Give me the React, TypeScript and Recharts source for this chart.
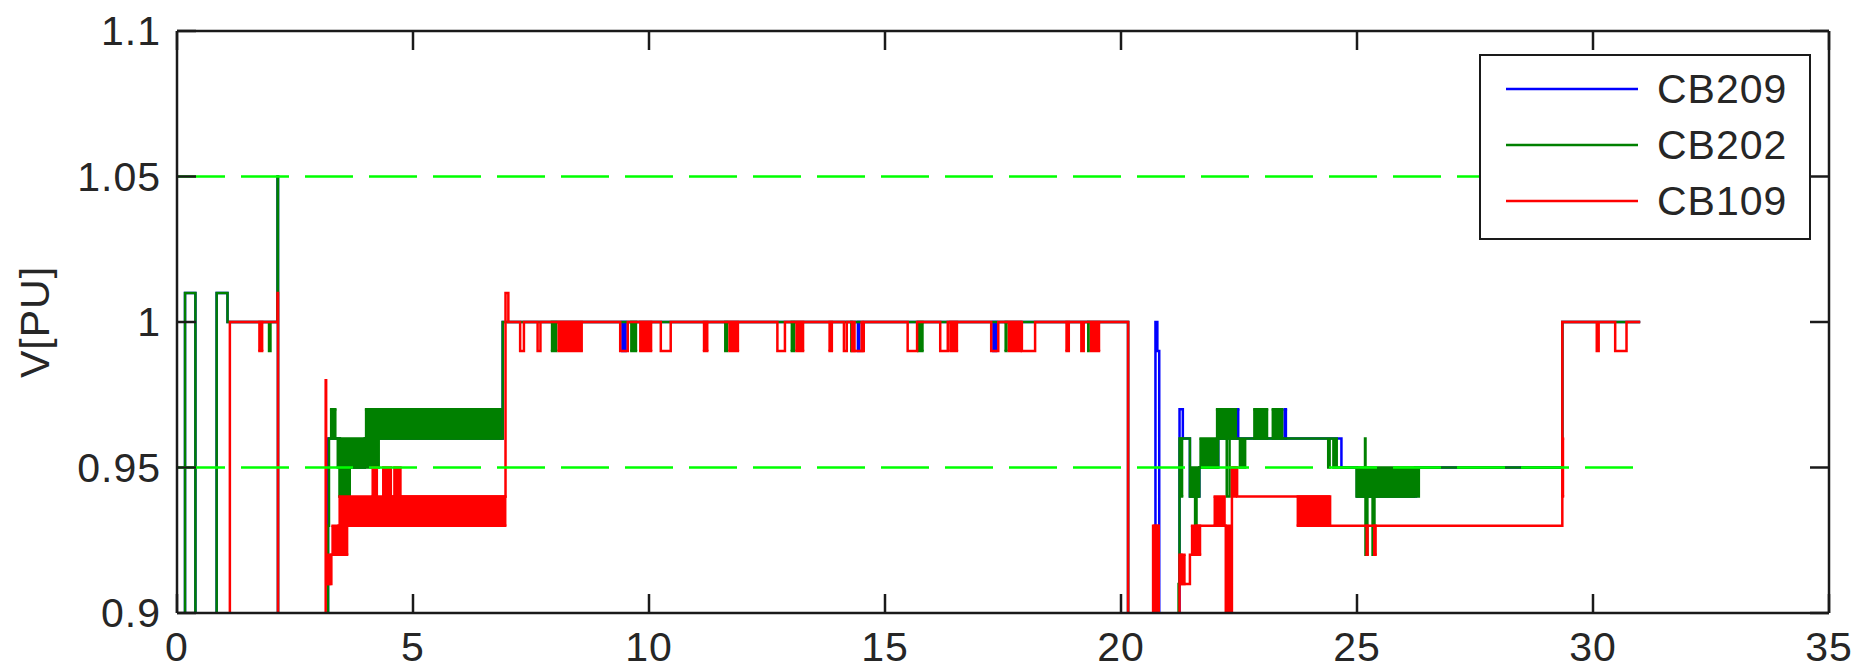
import { ComposedChart, Area, XAxis, YAxis } from "recharts";

const FONT = "'Liberation Sans', Arial, sans-serif";
const INK = "#262626";
const FRAME = "#1a1a1a";
const TICK_LEN = 19;

const X_TICKS = [0, 5, 10, 15, 20, 25, 30, 35];
const Y_TICKS = [0.9, 0.95, 1, 1.05, 1.1];

// step series: [time, voltage]; values below 0.9 fall off the plot
const cb209Line: [number, number][] = [
  [0, 0.85], [0.17, 1.01], [0.39, 0.85], [0.84, 1.01], [1.07, 1.0], [2.13, 1.05], [2.14, 0.85],
  [3.2, 0.96], [3.45, 0.95], [3.98, 0.96], [6.9, 1.0], [20.15, 0.85], [20.73, 1.0], [20.77, 0.99],
  [20.81, 0.85], [21.24, 0.97], [21.31, 0.96], [21.46, 0.94], [21.66, 0.95], [22.06, 0.96],
  [24.67, 0.95], [25.0, 0.94], [26.25, 0.95], [29.35, 1.0], [31.0, 1.0],
];

const cb202Line: [number, number][] = [
  [0, 0.85], [0.17, 1.01], [0.39, 0.85], [0.84, 1.01], [1.07, 1.0], [1.95, 0.99], [1.98, 1.0],
  [2.13, 1.05], [2.14, 0.85], [3.2, 0.93], [3.22, 0.96], [3.45, 0.94], [3.66, 0.95], [3.98, 0.96],
  [6.9, 1.0], [20.15, 0.85], [21.22, 0.91], [21.24, 0.96], [21.46, 0.94], [21.57, 0.93], [21.6, 0.94],
  [21.66, 0.95], [22.06, 0.96], [22.24, 0.94], [22.3, 0.96], [22.52, 0.95], [22.55, 0.96], [22.6, 0.95],
  [22.63, 0.96], [24.39, 0.95], [24.42, 0.96], [24.5, 0.95], [24.53, 0.96], [24.57, 0.95], [24.99, 0.94],
  [25.17, 0.96], [25.18, 0.92], [25.22, 0.94], [25.33, 0.92], [25.37, 0.94], [26.23, 0.95], [26.28, 0.94],
  [26.31, 0.95], [29.35, 1.0], [31.0, 1.0],
];

const cb109Line: [number, number][] = [
  [0, 0.85], [1.12, 1.0], [2.13, 1.01], [2.14, 0.85], [3.15, 0.98], [3.16, 0.91], [3.27, 0.92],
  [3.42, 0.93], [4.37, 0.95], [4.39, 0.94], [4.44, 0.95], [4.46, 0.94], [4.51, 0.95], [4.53, 0.94],
  [6.96, 1.01], [7.02, 1.0], [7.27, 0.99], [7.35, 1.0], [7.64, 0.99], [7.7, 1.0], [9.39, 0.99], [9.55, 1.0],
  [10.25, 0.99], [10.46, 1.0], [12.72, 0.99], [12.88, 1.0], [14.13, 0.99], [14.19, 1.0], [14.3, 0.99],
  [14.55, 1.0], [15.48, 0.99], [15.68, 1.0], [16.17, 0.99], [16.33, 1.0], [17.25, 0.99], [17.4, 1.0],
  [17.9, 0.99], [18.18, 1.0], [19.16, 0.99], [19.21, 1.0], [20.15, 0.85], [20.68, 0.93], [20.8, 0.85],
  [21.24, 0.92], [21.28, 0.91], [21.46, 0.92], [21.6, 0.93], [22.22, 0.85], [22.35, 0.95], [22.46, 0.94],
  [24.43, 0.93], [29.35, 1.0], [30.08, 0.99], [30.12, 1.0], [30.47, 0.99], [30.71, 1.0], [31.0, 1.0],
];

// fast switching between two levels: [from, to, low, high]
const cb209Bands: [number, number, number, number][] = [
  [6.84, 6.9, 0.96, 0.97], [9.41, 9.53, 0.99, 1.0], [14.4, 14.48, 0.99, 1.0], [17.27, 17.38, 0.99, 1.0],
  [22.44, 22.51, 0.96, 0.97], [23.44, 23.52, 0.96, 0.97],
];

const cb202Bands: [number, number, number, number][] = [
  [3.24, 3.38, 0.96, 0.97], [3.38, 4.3, 0.95, 0.96], [3.42, 3.66, 0.94, 0.95], [3.98, 6.88, 0.96, 0.97],
  [7.92, 8.06, 0.99, 1.0], [9.6, 9.75, 0.99, 1.0], [11.59, 11.68, 0.99, 1.0], [13.0, 13.1, 0.99, 1.0],
  [14.26, 14.31, 0.99, 1.0], [15.68, 15.82, 0.99, 1.0], [17.53, 17.6, 0.99, 1.0], [19.28, 19.34, 0.99, 1.0],
  [21.24, 21.32, 0.94, 0.96], [21.46, 21.66, 0.94, 0.95], [21.66, 22.06, 0.95, 0.96], [22.01, 22.46, 0.96, 0.97],
  [22.8, 23.12, 0.96, 0.97], [23.19, 23.44, 0.96, 0.97], [24.99, 26.23, 0.94, 0.95],
];

const cb109Bands: [number, number, number, number][] = [
  [1.72, 1.83, 0.99, 1.0], [3.16, 3.27, 0.91, 0.92], [3.27, 3.63, 0.92, 0.93], [3.42, 6.98, 0.93, 0.94],
  [4.12, 4.26, 0.94, 0.95], [4.58, 4.76, 0.94, 0.95], [8.06, 8.6, 0.99, 1.0], [9.79, 10.07, 0.99, 1.0],
  [11.14, 11.26, 0.99, 1.0], [11.68, 11.91, 0.99, 1.0], [13.1, 13.29, 0.99, 1.0], [13.8, 13.9, 0.99, 1.0],
  [14.31, 14.38, 0.99, 1.0], [14.48, 14.55, 0.99, 1.0], [16.36, 16.55, 0.99, 1.0], [17.6, 17.9, 0.99, 1.0],
  [18.82, 18.92, 0.99, 1.0], [19.34, 19.56, 0.99, 1.0], [20.68, 20.8, 0.85, 0.93], [21.27, 21.37, 0.91, 0.92],
  [21.48, 21.7, 0.92, 0.93], [21.96, 22.22, 0.93, 0.94], [22.22, 22.35, 0.85, 0.93], [22.35, 22.46, 0.94, 0.95],
  [23.72, 24.43, 0.93, 0.94], [25.18, 25.25, 0.92, 0.93], [25.34, 25.42, 0.92, 0.93], [29.33, 29.39, 0.94, 0.96],
];

// limit lines
const LIMIT_SPAN = [0, 31];
const LIMIT_HIGH = 1.05;
const LIMIT_LOW = 0.95;

const SERIES = [
  { name: "CB209", color: "#0000ff", line: cb209Line, bands: cb209Bands },
  { name: "CB202", color: "#008000", line: cb202Line, bands: cb202Bands },
  { name: "CB109", color: "#ff0000", line: cb109Line, bands: cb109Bands },
];

const toLine = (pts: [number, number][]) => pts.map(([t, v]) => ({ t, v }));
const toBands = (bands: [number, number, number, number][]) =>
  bands.flatMap(([t0, t1, lo, hi]) => [
    { t: t0, r: [lo, hi] },
    { t: t1, r: [lo, hi] },
    { t: t1, r: null },
  ]);
const toLimit = (v: number) => LIMIT_SPAN.map((t) => ({ t, v }));

const textStyle = { fontFamily: FONT, fontSize: 41, fill: INK, letterSpacing: 1 };

const BottomTick = (p: any) => (
  <g>
    <line x1={p.x} y1={p.y} x2={p.x} y2={p.y - TICK_LEN} stroke={FRAME} strokeWidth={2.5} />
    <text x={p.x} y={p.y + 48} textAnchor="middle" style={textStyle}>{p.payload.value}</text>
  </g>
);

const LeftTick = (p: any) => (
  <g>
    <line x1={p.x} y1={p.y} x2={p.x + TICK_LEN} y2={p.y} stroke={FRAME} strokeWidth={2.5} />
    <text x={p.x - 16} y={p.y + 14} textAnchor="end" style={textStyle}>{String(p.payload.value)}</text>
  </g>
);

const TopTick = (p: any) => (
  <line x1={p.x} y1={p.y} x2={p.x} y2={p.y + TICK_LEN} stroke={FRAME} strokeWidth={2.5} />
);

const RightTick = (p: any) => (
  <line x1={p.x} y1={p.y} x2={p.x - TICK_LEN} y2={p.y} stroke={FRAME} strokeWidth={2.5} />
);

const YTitle = (p: any) => {
  const vb = p.viewBox;
  const cx = vb.x + 35;
  const cy = vb.y + vb.height / 2;
  return (
    <text x={cx} y={cy} transform={`rotate(-90 ${cx} ${cy})`} textAnchor="middle" dominantBaseline="central" style={textStyle}>
      V[PU]
    </text>
  );
};

const axisLine = { stroke: FRAME, strokeWidth: 2.5 };

function LegendBox() {
  return (
    <div
      style={{
        position: "absolute",
        left: 1479,
        top: 54,
        width: 332,
        height: 186,
        boxSizing: "border-box",
        border: `2.5px solid ${FRAME}`,
        background: "#fff",
      }}
    >
      <svg width={327} height={181} style={{ display: "block" }}>
        {SERIES.map((s, i) => {
          const y = 33 + i * 56;
          return (
            <g key={s.name}>
              <line x1={25} y1={y} x2={157} y2={y} stroke={s.color} strokeWidth={2.5} />
              <text x={176} y={y + 14} style={textStyle}>{s.name}</text>
            </g>
          );
        })}
      </svg>
    </div>
  );
}

export default function App() {
  return (
    <div style={{ position: "absolute", left: 0, top: 0, width: 1854, height: 671, background: "#fff" }}>
      <ComposedChart width={1854} height={671} margin={{ top: 0, right: 0, bottom: 0, left: 0 }}>
        <XAxis
          type="number"
          dataKey="t"
          domain={[0, 35]}
          ticks={X_TICKS}
          allowDataOverflow
          interval={0}
          height={58}
          tickSize={0}
          tickMargin={0}
          tickLine={false}
          axisLine={axisLine}
          tick={BottomTick}
        />
        <XAxis
          xAxisId="top"
          orientation="top"
          type="number"
          dataKey="t"
          domain={[0, 35]}
          ticks={X_TICKS}
          allowDataOverflow
          interval={0}
          height={31}
          tickSize={0}
          tickMargin={0}
          tickLine={false}
          axisLine={axisLine}
          tick={TopTick}
        />
        <YAxis
          type="number"
          domain={[0.9, 1.1]}
          ticks={Y_TICKS}
          allowDataOverflow
          interval={0}
          width={177}
          tickSize={0}
          tickMargin={0}
          tickLine={false}
          axisLine={axisLine}
          tick={LeftTick}
          label={YTitle}
        />
        <YAxis
          yAxisId="right"
          orientation="right"
          type="number"
          domain={[0.9, 1.1]}
          ticks={Y_TICKS}
          allowDataOverflow
          interval={0}
          width={25}
          tickSize={0}
          tickMargin={0}
          tickLine={false}
          axisLine={axisLine}
          tick={RightTick}
        />
        {SERIES.flatMap((s) => [
          <Area
            key={`${s.name}-line`}
            data={toLine(s.line)}
            dataKey="v"
            name={s.name}
            type="stepAfter"
            stroke={s.color}
            strokeWidth={2.5}
            fill="none"
            dot={false}
            activeDot={false}
            isAnimationActive={false}
          />,
          <Area
            key={`${s.name}-bands`}
            data={toBands(s.bands)}
            dataKey="r"
            name={`${s.name} switching`}
            type="stepAfter"
            stroke={s.color}
            strokeWidth={2.5}
            fill={s.color}
            fillOpacity={1}
            dot={false}
            activeDot={false}
            isAnimationActive={false}
          />,
        ])}
        {[LIMIT_HIGH, LIMIT_LOW].map((lim) => (
          <Area
            key={`limit-${lim}`}
            xAxisId="top"
            yAxisId="right"
            data={toLimit(lim)}
            dataKey="v"
            type="linear"
            stroke="#00ff00"
            strokeWidth={2.5}
            strokeDasharray="48 16"
            fill="none"
            dot={false}
            activeDot={false}
            isAnimationActive={false}
          />
        ))}
      </ComposedChart>
      <LegendBox />
    </div>
  );
}
